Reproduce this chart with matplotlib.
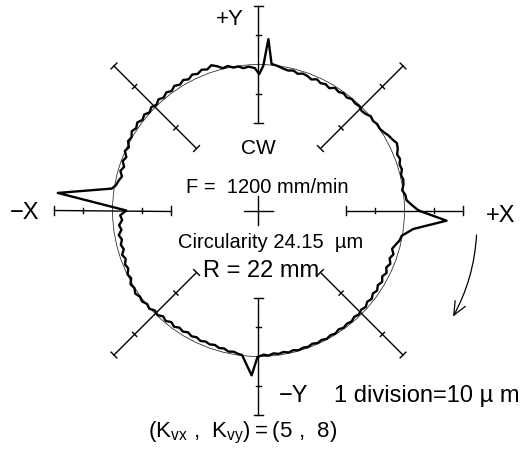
import numpy as np
import matplotlib
matplotlib.use("Agg")
import matplotlib.pyplot as plt
from matplotlib.patches import Circle, FancyArrowPatch

plt.rcParams.update({
    "font.family": "Liberation Sans",
    "mathtext.fontset": "custom",
    "mathtext.rm": "Liberation Sans",
    "mathtext.default": "regular",
})

W_PX, H_PX = 532, 464
CX_PX, CY_PX = 258.5, 211.5     # centre of the polar trace, pixels from top-left
PX_PER_UM = 2.92                # 1 division = 10 um
R_REF = 50.0                    # reference circle drawn at 5 divisions
DIV = 10.0

# radial deviation from the reference circle [um] vs angle [deg, ccw from +X]
q1_deg = [0, 2, 4, 6, 8, 10, 12, 14, 16, 18, 20, 22, 24, 26, 28, 30, 32, 34,
          36, 38, 40, 42, 44, 46, 48, 50, 52, 54, 56, 58, 60, 62, 64, 66, 68,
          70, 72, 74, 76, 78, 80, 82.8, 84.9, 86.7, 88.1, 89.7]
q1_dev = [4.8, 2.6, 0.8, 0.6, -0.3, 0.4, 0.7, 0.3, 1.1, 0.8, 1.6, 1.2, 2.2,
          2.7, 1.9, 1.4, 0.6, 0.1, 0.3, -0.2, 0.2, -0.6, -0.9, -0.3, -0.6,
          -0.2, -0.9, -0.4, -1.0, -0.5, -1.6, -1.0, -1.5, -0.8, -1.6, -1.0,
          -0.7, -1.3, -0.6, -1.0, -0.7, 0.0, 0.4, 8.8, -0.4, -3.3]

q2_deg = [91.5, 94, 96, 98, 100, 102, 104, 106, 108, 110, 112, 114, 116, 118,
          120, 122, 124, 126, 128, 130, 132, 134, 136, 138, 140, 142, 144, 146,
          148, 150, 152, 154, 156, 158, 160, 162, 164, 166, 168, 170, 171.5,
          175, 180]
q2_dev = [-1.2, -0.6, -1.0, -0.2, -0.3, 0.6, 0.2, 1.4, 2.3, 1.4, 2.0, 1.2, 1.8,
          0.9, 1.6, 0.8, 1.5, 0.6, 1.3, 0.5, 1.2, 0.3, 1.0, 0.2, 1.1, 0.4, 1.3,
          0.5, 1.2, 0.2, 0.6, -0.6, 0.1, -1.2, -0.5, -1.6, -0.8, -1.8, -1.0,
          -0.4, 0.8, 19.0, -4.7]

q3_deg = [182, 184, 186, 188, 190, 192, 194, 196, 198, 200, 202, 204, 206, 208,
          210, 212, 214, 216, 218, 220, 222, 224, 226, 228, 230, 232, 234, 236,
          238, 240, 242, 244, 246, 248, 250, 252, 254, 256, 258, 260, 262,
          263.5, 267.6, 269.6]
q3_dev = [-2.6, -3.2, -2.0, -2.6, -1.4, -2.2, -1.4, -2.0, -0.9, -1.6, -0.7,
          -1.2, -0.1, -0.6, 0.6, 0.1, 0.9, 0.2, 0.6, -0.2, 0.3, -0.7, -0.2,
          -1.2, -0.6, -1.5, -0.8, -1.6, -1.1, -1.8, -1.2, -1.7, -1.1, -1.6,
          -1.2, -1.6, -1.0, -1.3, -0.6, -0.9, -0.4, -0.2, 6.5, 0.2]

q4_deg = [272, 274, 276, 278, 280, 282, 284, 286, 288, 290, 292, 294, 296, 298,
          300, 302, 304, 306, 308, 310, 312, 314, 316, 318, 320, 322, 324, 326,
          328, 330, 332, 334, 336, 338, 340, 342, 344, 346, 348, 350, 353.2,
          356.9]
q4_dev = [-0.6, -0.2, -0.8, -0.4, -0.8, -0.3, -0.7, -0.2, -0.6, -0.3, -0.8,
          -0.3, -0.7, -0.2, -0.7, -0.3, -0.9, -0.4, -0.8, -0.4, -1.0, -0.5,
          -1.1, -0.6, -1.4, -0.8, -1.6, -1.0, -1.8, -1.1, -2.0, -1.2, -2.1,
          -1.3, -2.2, -1.4, -2.4, -1.6, -0.6, -0.2, 3.4, 14.5]

arm_angles = [0, 45, 90, 135, 180, 225, 270, 315]


def fx(px):
    return px / W_PX


def fy(py):
    return 1 - py / H_PX


fig = plt.figure(figsize=(W_PX / 100, H_PX / 100), dpi=100)
ax = fig.add_axes([0, 0, 1, 1])
ax.set_xlim(-CX_PX / PX_PER_UM, (W_PX - CX_PX) / PX_PER_UM)
ax.set_ylim(-(H_PX - CY_PX) / PX_PER_UM, CY_PX / PX_PER_UM)
ax.set_aspect("equal")
ax.axis("off")

# reference circle
ax.add_patch(Circle((0, 0), R_REF, fill=False, lw=0.6, ec="#333333"))

# scale arms: R-2div .. R+2div, ticks every division
for a in arm_angles:
    t = np.radians(a)
    u = np.array([np.cos(t), np.sin(t)])
    n = np.array([-np.sin(t), np.cos(t)])
    p0, p1 = (R_REF - 2 * DIV) * u, (R_REF + 2 * DIV) * u
    ax.plot([p0[0], p1[0]], [p0[1], p1[1]], color="black", lw=1.0)
    for rr, h in [(R_REF - 2 * DIV, 1.4), (R_REF - DIV, 1.0),
                  (R_REF + DIV, 1.0), (R_REF + 2 * DIV, 1.4)]:
        c = rr * u
        ax.plot([c[0] - h * n[0], c[0] + h * n[0]],
                [c[1] - h * n[1], c[1] + h * n[1]], color="black", lw=1.0)

# centre cross
ax.plot([-4.8, 4.8], [0, 0], color="black", lw=1.0)
ax.plot([0, 0], [-4.8, 4.8], color="black", lw=1.0)

# measured trace
deg = np.array(q1_deg + q2_deg + q3_deg + q4_deg + [q1_deg[0] + 360])
dev = np.array(q1_dev + q2_dev + q3_dev + q4_dev + [q1_dev[0]])
th = np.radians(deg)
r = R_REF + dev
ax.plot(r * np.cos(th), r * np.sin(th), color="black", lw=1.7)

# direction of travel (CW)
p_start = ((476.7 - CX_PX) / PX_PER_UM, (CY_PX - 233.3) / PX_PER_UM)
p_end = ((451.7 - CX_PX) / PX_PER_UM, (CY_PX - 320.0) / PX_PER_UM)
ax.add_patch(FancyArrowPatch(p_start, p_end, connectionstyle="arc3,rad=-0.12",
                             arrowstyle="->,head_length=0.8,head_width=0.35",
                             mutation_scale=12, lw=0.9, color="black"))

# labels
fig.text(fx(230), fy(25), "+Y", ha="center", va="baseline", fontsize=16)
fig.text(fx(294), fy(402), "\u2212Y", ha="center", va="baseline", fontsize=17)
fig.text(fx(24.5), fy(219), "\u2212X", ha="center", va="baseline", fontsize=17)
fig.text(fx(501), fy(222), "+X", ha="center", va="baseline", fontsize=17)
fig.text(fx(258.5), fy(154), "CW", ha="center", va="baseline", fontsize=15)
fig.text(fx(267), fy(193), "F =  1200 mm/min", ha="center", va="baseline",
         fontsize=14.5)
fig.text(fx(271), fy(248), "Circularity 24.15  \u00b5m", ha="center",
         va="baseline", fontsize=14.5)
fig.text(fx(261), fy(277), "R = 22 mm", ha="center", va="baseline", fontsize=17)
fig.text(fx(426.5), fy(402), "1 division=10 \u00b5 m", ha="center",
         va="baseline", fontsize=17)
fig.text(fx(243), fy(437), r"$( K_{vx}\ ,\ K_{vy}) = ( 5\ ,\ 8)$",
         ha="center", va="baseline", fontsize=16)

fig.savefig("out.png", dpi=100, facecolor="white")
